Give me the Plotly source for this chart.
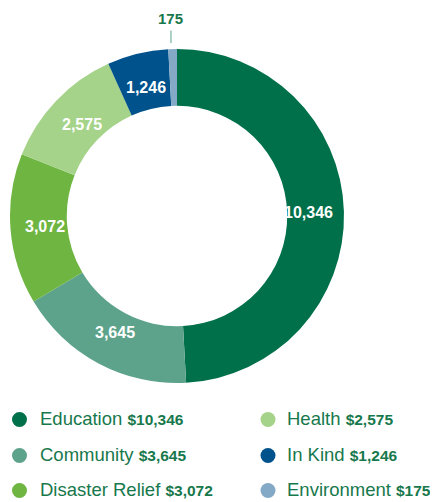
import math
import plotly.graph_objects as go

categories = ["Education", "Community", "Disaster Relief", "Health", "In Kind", "Environment"]
values = [10346, 3645, 3072, 2575, 1246, 175]
colors = ["#00704A", "#5DA38B", "#6FB541", "#A5D38A", "#00528C", "#84A9C6"]
label_text = ["10,346", "3,645", "3,072", "2,575", "1,246", "175"]
legend_values = ["$10,346", "$3,645", "$3,072", "$2,575", "$1,246", "$175"]
outside = [False, False, False, False, False, True]

# page has an 8px body margin; work in figure pixels
OFF = 8
W, H = 438 - OFF, 502 - OFF
cx, cy, R = 177 - OFF, 216 - OFF, 167
HOLE = 0.66
LABEL_R = 132
TXT = "#17784C"
FONT = "Liberation Sans, Arial, Helvetica"


def px(x):
    return x / W


def py(y):
    return 1 - y / H


fig = go.Figure()
fig.add_trace(go.Pie(
    labels=categories,
    values=values,
    textinfo="none",
    hole=HOLE,
    sort=False,
    direction="clockwise",
    rotation=0,
    marker=dict(colors=colors, line=dict(width=0)),
    domain=dict(x=[px(cx - R), px(cx + R)], y=[py(cy + R), py(cy - R)]),
    showlegend=False,
    hoverinfo="label+value",
))

# slice labels placed along each slice's mid-angle
total = sum(values)
cum = 0
for val, txt, out in zip(values, label_text, outside):
    mid = (cum + val / 2) / total
    cum += val
    ang = 2 * math.pi * mid
    s, c = math.sin(ang), math.cos(ang)
    if not out:
        fig.add_annotation(xref="paper", yref="paper",
                           x=px(cx + LABEL_R * s), y=py(cy - LABEL_R * c),
                           xanchor="center", yanchor="middle", showarrow=False,
                           text=f"<b>{txt}</b>",
                           font=dict(family=FONT, size=16, color="white"))
    else:
        r0 = R + 6
        fig.add_annotation(xref="paper", yref="paper",
                           x=px(cx + r0 * s - 1.5), y=py(cy - r0 * c),
                           showarrow=True, arrowhead=0, arrowwidth=1,
                           arrowcolor="#5DA38B", ax=0, ay=-24.5,
                           startstandoff=2,
                           text=f"<b>{txt}</b>",
                           font=dict(family=FONT, size=15, color=TXT))

# custom legend
rows = [419.5 - OFF, 455.5 - OFF, 490.5 - OFF]
cols = [(19.5 - OFF, 37.5 - OFF), (268 - OFF, 285 - OFF)]
for i, (cat, val, col) in enumerate(zip(categories, legend_values, colors)):
    mx, tx = cols[i // 3]
    y = rows[i % 3]
    fig.add_shape(type="circle", xref="paper", yref="paper",
                  x0=px(mx - 7.5), x1=px(mx + 7.5),
                  y0=py(y + 7.5), y1=py(y - 7.5),
                  fillcolor=col, line=dict(width=0))
    fig.add_annotation(xref="paper", yref="paper", x=px(tx), y=py(y - 1),
                       xanchor="left", yanchor="middle", showarrow=False,
                       text=f"{cat} <b><span style='font-size:15.5px'>{val}</span></b>",
                       font=dict(family=FONT, size=18.5, color=TXT))

fig.update_layout(
    width=W, height=H,
    margin=dict(l=0, r=0, t=0, b=0),
    paper_bgcolor="white",
    plot_bgcolor="white",
)

fig.write_html("out.html")
